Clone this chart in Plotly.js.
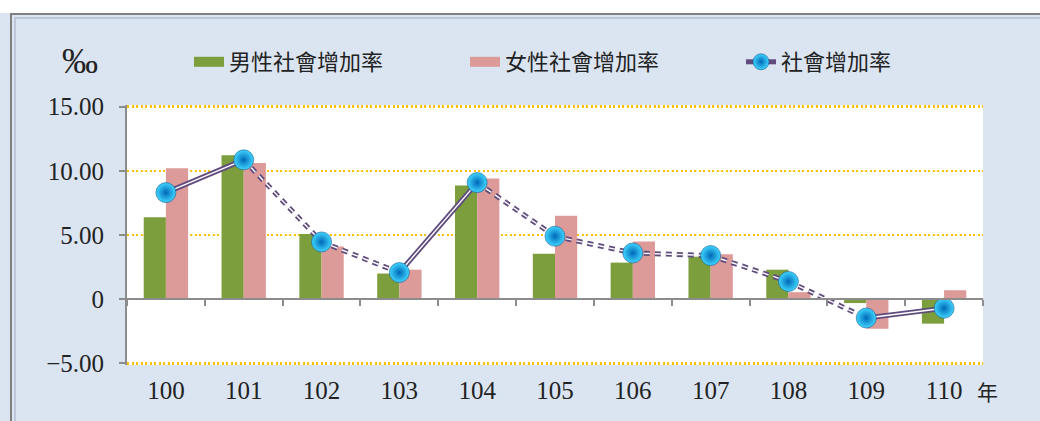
<!DOCTYPE html>
<html>
<head>
<meta charset="utf-8">
<script src="https://cdn.plot.ly/plotly-3.0.1.min.js"></script>
<style>html,body{margin:0;padding:0;background:#fff;}#chart{width:1040px;height:421px;}</style>
</head>
<body>
<div id="chart"></div>
<script>
// ---- data ----
const years = ['100','101','102','103','104','105','106','107','108','109','110'];
const male = [6.38, 11.2, 5.08, 2.0, 8.85, 3.54, 2.85, 3.3, 2.3, -0.3, -1.9];
const female = [10.2, 10.6, 4.1, 2.3, 9.4, 6.5, 4.5, 3.5, 0.55, -2.3, 0.7];
const total = [8.3, 10.85, 4.46, 2.08, 9.08, 4.9, 3.6, 3.4, 1.38, -1.46, -0.7];
const yTickVals = [15, 10, 5, 0, -5];
const yTickText = ['15.00', '10.00', '5.00', '0', '\u22125.00'];
const nameMale = '男性社會增加率';
const nameFemale = '女性社會增加率';
const nameTotal = '社會增加率';
const unitLabel = '‰';
const yearLabel = '年';

// ---- styles ----
const green = '#7d9e3c';
const pink = '#dc9a98';
const purple = '#5f4b7d';
const serif = 'Liberation Serif, Times New Roman, serif';
const cjk = 'Noto Sans CJK TC, Noto Sans CJK SC, sans-serif';
const ball = {size:20, color:'#3fd6ff', gradient:{type:'radial', color:'#0068b8'},
              line:{color:'#145a96', width:0.6}};
const yMin = -5.12, yMax = 15.12;

// split total line into rising (solid) and falling (dashed) segments
const upX = [], upY = [], dnX = [], dnY = [];
for (let i = 0; i < total.length - 1; i++) {
  const rising = total[i + 1] >= total[i];
  const tx = rising ? upX : dnX;
  const ty = rising ? upY : dnY;
  tx.push(years[i], years[i + 1], null);
  ty.push(total[i], total[i + 1], null);
}

const traces = [
  {type:'bar', x: years, y: male, name: nameMale, showlegend:false,
   marker:{color: green, line:{width:0}}, hoverinfo:'skip'},
  {type:'bar', x: years, y: female, name: nameFemale, showlegend:false,
   marker:{color: pink, line:{width:0}}, hoverinfo:'skip'},
  {type:'scatter', mode:'lines', x: upX, y: upY, xaxis:'x2', showlegend:false,
   line:{color: purple, width:5}, hoverinfo:'skip', connectgaps:false},
  {type:'scatter', mode:'lines', x: upX, y: upY, xaxis:'x2', showlegend:false,
   line:{color: '#ffffff', width:1.4}, hoverinfo:'skip', connectgaps:false},
  {type:'scatter', mode:'lines', x: dnX, y: dnY, xaxis:'x2', showlegend:false,
   line:{color: purple, width:5, dash:'6px,5px'}, hoverinfo:'skip', connectgaps:false},
  {type:'scatter', mode:'lines', x: dnX, y: dnY, xaxis:'x2', showlegend:false,
   line:{color: '#ffffff', width:1.4, dash:'6px,5px'}, hoverinfo:'skip', connectgaps:false},
  {type:'scatter', mode:'markers', x: years, y: total, xaxis:'x2', showlegend:false,
   marker: ball, hoverinfo:'skip'},
  // legend entries
  {type:'scatter', mode:'lines', x:[null], y:[null], name: nameMale,
   line:{color: green, width:10}},
  {type:'scatter', mode:'lines', x:[null], y:[null], name: nameFemale,
   line:{color: pink, width:10}},
  {type:'scatter', mode:'lines+markers', x:[null], y:[null], name: nameTotal,
   line:{color: purple, width:5}, marker: Object.assign({}, ball, {size:18})}
];

const px = (p) => (p - 127) / 856;   // pixel x -> paper x
const py = (p) => (365 - p) / 260;   // pixel y -> paper y

const layout = {
  width: 1040, height: 421,
  margin: {l:127, r:57, t:105, b:56, pad:0},
  paper_bgcolor: '#dbe5f1',
  plot_bgcolor: '#ffffff',
  barmode: 'group', bargap: 0.43, bargroupgap: 0,
  showlegend: true,
  legend: {orientation:'h', xref:'container', yref:'container',
           x: 189 / 1040, y: 1 - 62 / 421, xanchor:'left', yanchor:'middle',
           bgcolor:'rgba(0,0,0,0)', font:{family: cjk, size:22, color:'#222'},
           entrywidth: 231, entrywidthmode:'pixels', traceorder:'normal'},
  xaxis: {type:'category', categoryarray: years, categoryorder:'array',
          range:[-0.5, 10.5], autorange:false,
          showline:false, showgrid:false, zeroline:false, ticks:'',
          tickfont:{family: serif, size:25, color:'#222'}, ticklabelstandoff: 8,
          fixedrange:true},
  xaxis2: {type:'category', categoryarray: years, categoryorder:'array',
           matches:'x', overlaying:'x', anchor:'free', position: -yMin / (yMax - yMin),
           showline:true, linecolor:'#8c8c8c', linewidth:2,
           ticks:'outside', ticklen:6, tickwidth:2, tickcolor:'#8c8c8c',
           tickson:'boundaries', showticklabels:false, showgrid:false, zeroline:false},
  yaxis: {range:[yMin, yMax], autorange:false, tickvals: yTickVals, ticktext: yTickText,
          showline:true, linecolor:'#8c8c8c', linewidth:2,
          ticks:'outside', ticklen:6, tickwidth:2, tickcolor:'#8c8c8c',
          showgrid:true, gridcolor:'#ffc000', gridwidth:2.5, griddash:'2px,2.5px',
          zeroline:false, tickfont:{family: serif, size:25, color:'#222'},
          ticklabelstandoff: 10, fixedrange:true},
  shapes: [
    {type:'rect', xref:'paper', yref:'paper', x0: px(-5), x1: px(1050), y0: py(13), y1: py(-5),
     fillcolor:'#ffffff', line:{width:0}, layer:'below'},
    {type:'rect', xref:'paper', yref:'paper', x0: px(11), x1: px(1060), y0: py(14), y1: py(440),
     fillcolor:'rgba(0,0,0,0)', line:{color:'#808080', width:2}, layer:'below'},
    {type:'rect', xref:'paper', yref:'paper', x0: px(15), x1: px(1060), y0: py(18), y1: py(440),
     fillcolor:'rgba(0,0,0,0)', line:{color:'#b4c0cf', width:1.5}, layer:'below'}
  ],
  annotations: [
    {xref:'paper', yref:'paper', x: px(80), y: py(61), text: unitLabel, showarrow:false,
     xanchor:'center', yanchor:'middle', font:{family: serif, size:36, color:'#222'}},
    {xref:'paper', yref:'paper', x: px(975), y: py(391), text: yearLabel, showarrow:false,
     xanchor:'left', yanchor:'middle', font:{family: cjk, size:21, color:'#222'}}
  ]
};

Plotly.newPlot('chart', traces, layout, {displayModeBar:false, staticPlot:true});
</script>
</body>
</html>
